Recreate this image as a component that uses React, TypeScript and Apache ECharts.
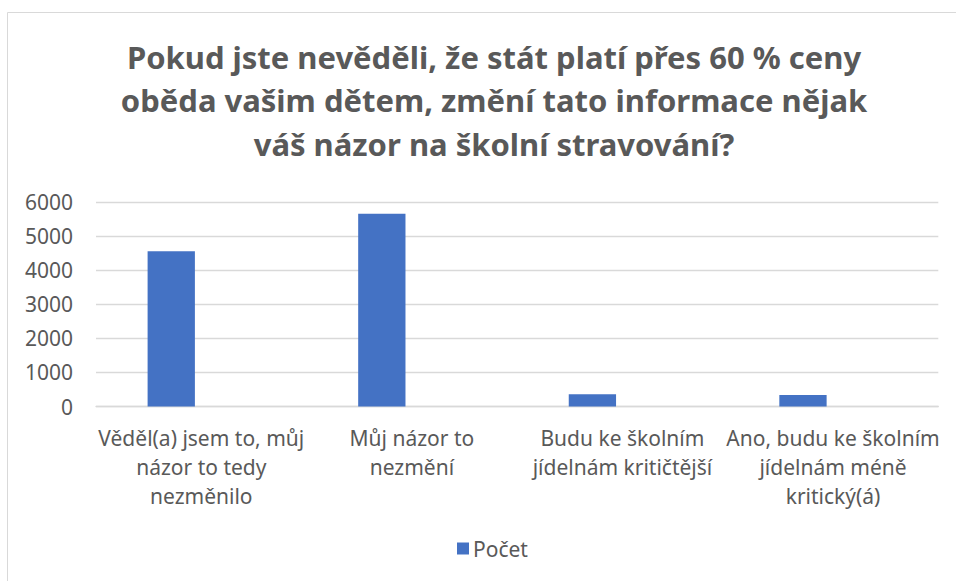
import React, { useEffect, useRef } from "react";
import * as echarts from "echarts";

const titleLines = [
  "Pokud jste nevěděli, že stát platí přes 60 % ceny",
  "oběda vašim dětem, změní tato informace nějak",
  "váš názor na školní stravování?",
];
const categories = [
  "Věděl(a) jsem to, můj\nnázor to tedy\nnezměnilo",
  "Můj názor to\nnezmění",
  "Budu ke školním\njídelnám kritičtější",
  "Ano, budu ke školním\njídelnám méně\nkritický(á)",
];
const seriesName = "Počet";
const counts = [4560, 5665, 360, 340];
const emptySeries = [null, null, null, null];

const FONT = "'Noto Sans', 'Open Sans', sans-serif";
const GRAY = "#595959";

export default function App() {
  const ref = useRef<HTMLDivElement>(null);
  useEffect(() => {
    if (!ref.current) return;
    const chart = echarts.init(ref.current, null, { renderer: "svg" });
    chart.setOption({
      animation: false,
      backgroundColor: "#ffffff",
      textStyle: { fontFamily: FONT },
      graphic: [
        {
          type: "rect",
          shape: { x: 7.5, y: 12.5, width: 1000, height: 700 },
          style: { fill: "none", stroke: "#d9d9d9", lineWidth: 1 },
          silent: true,
        },
      ],
      title: {
        text: titleLines.join("\n"),
        left: 489,
        top: 30,
        textAlign: "center",
        textStyle: {
          fontFamily: FONT,
          fontSize: 31,
          fontWeight: "bold",
          color: GRAY,
          lineHeight: 43.5,
        },
      },
      legend: {
        data: [seriesName],
        left: 452,
        top: 533,
        icon: "rect",
        itemWidth: 12,
        itemHeight: 12,
        itemGap: 10,
        textStyle: { fontFamily: FONT, fontSize: 21, color: GRAY, padding: [0, 0, 0, -1] },
      },
      grid: {
        left: 96,
        right: 17.7,
        top: 202.3,
        bottom: 174.5,
        containLabel: false,
        outerBoundsMode: "none",
      },
      xAxis: {
        type: "category",
        data: categories,
        axisLine: { show: true, lineStyle: { color: "#d9d9d9", width: 1.3 } },
        axisTick: { show: false },
        axisLabel: {
          interval: 0,
          margin: 17,
          fontFamily: FONT,
          fontSize: 21,
          lineHeight: 29,
          color: GRAY,
          align: "center",
        },
      },
      yAxis: {
        type: "value",
        min: 0,
        max: 6000,
        interval: 1000,
        axisLine: { show: false },
        axisTick: { show: false },
        splitLine: { lineStyle: { color: "#d9d9d9", width: 1.3 } },
        axisLabel: {
          margin: 23,
          fontFamily: FONT,
          fontSize: 21,
          color: GRAY,
          formatter: (v: number) => String(v),
        },
      },
      series: [
        {
          name: seriesName,
          type: "bar",
          data: counts,
          barWidth: 47.3,
          barGap: "27%",
          itemStyle: { color: "#4472c4" },
        },
        {
          name: "",
          type: "bar",
          data: emptySeries,
          barWidth: 47.3,
          itemStyle: { color: "#ed7d31" },
        },
      ],
    });
    return () => chart.dispose();
  }, []);
  return (
    <div
      ref={ref}
      style={{ position: "fixed", left: 0, top: 0, width: 956, height: 581 }}
    />
  );
}
